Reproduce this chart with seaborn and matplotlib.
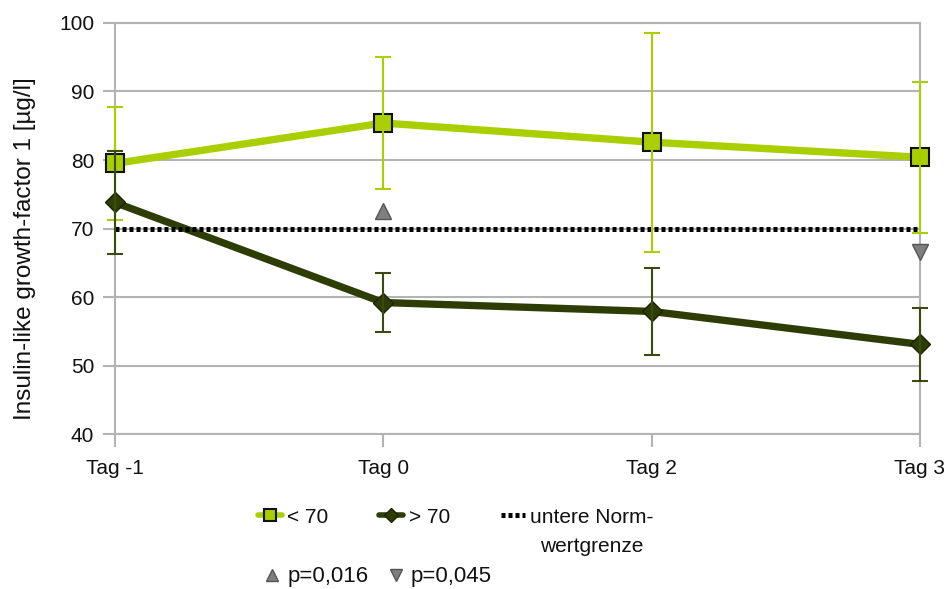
import numpy as np
import pandas as pd
import matplotlib
matplotlib.use("Agg")
import matplotlib.pyplot as plt
from matplotlib.lines import Line2D
import seaborn as sns

# IGF-1 course by group
days = ["Tag -1", "Tag 0", "Tag 2", "Tag 3"]
low_mean = [79.5, 85.4, 82.6, 80.4]     # group "< 70"
low_sd = [8.2, 9.6, 16.0, 11.0]
high_mean = [73.8, 59.2, 57.9, 53.1]    # group "> 70"
high_sd = [7.5, 4.3, 6.3, 5.3]
norm_limit = [70, 70, 70, 70]           # untere Normwertgrenze
sig_up = {"day": "Tag 0", "value": 72.5, "label": "p=0,016"}
sig_down = {"day": "Tag 3", "value": 66.6, "label": "p=0,045"}
y_ticks = [40, 50, 60, 70, 80, 90, 100]

LIGHT = "#aacf00"
DARK = "#2e3d06"
GRID = "#b3b3b3"
FS = 15

sns.set_style("white")
plt.rcParams["font.family"] = ["Liberation Sans", "DejaVu Sans"]
plt.rcParams["font.size"] = FS

pos = np.arange(len(days))
df = pd.DataFrame({
    "pos": np.concatenate([pos, pos, pos]),
    "value": low_mean + high_mean + norm_limit,
    "group": ["< 70"] * 4 + ["> 70"] * 4 + ["norm"] * 4,
})

fig = plt.figure(figsize=(9.5, 5.89), dpi=100)
ax = fig.add_axes([0.121, 0.263, 0.8474, 0.698])

# horizontal grid
for t in y_ticks:
    ax.axhline(t, color=GRID, lw=1.5, zorder=0.5)

# group lines
sns.lineplot(data=df[df.group == "> 70"], x="pos", y="value", ax=ax,
             color=DARK, lw=5.3, marker="D", markersize=10.5,
             markerfacecolor=DARK, markeredgecolor="#1a2200",
             markeredgewidth=1.0, zorder=3, clip_on=False, legend=False)
sns.lineplot(data=df[df.group == "norm"], x="pos", y="value", ax=ax,
             color="black", lw=3.6, linestyle=(0, (0.8, 0.6)),
             zorder=4, legend=False)
sns.lineplot(data=df[df.group == "< 70"], x="pos", y="value", ax=ax,
             color=LIGHT, lw=5.3, marker="s", markersize=13.5,
             markerfacecolor=LIGHT, markeredgecolor="#111111",
             markeredgewidth=1.5, zorder=5, clip_on=False, legend=False)

# standard deviations
ax.errorbar(pos, low_mean, yerr=low_sd, fmt="none", ecolor=LIGHT,
            elinewidth=1.5, capsize=5.8, capthick=1.5, zorder=6, clip_on=False)
ax.errorbar(pos, high_mean, yerr=high_sd, fmt="none", ecolor="#3b4a10",
            elinewidth=1.5, capsize=5.8, capthick=1.5, zorder=6, clip_on=False)

# significance markers
ax.plot(days.index(sig_up["day"]), sig_up["value"], marker="^", ms=12,
        color="#7f7f7f", mec="#555555", mew=1.0, ls="none", zorder=3.5,
        clip_on=False)
ax.plot(days.index(sig_down["day"]), sig_down["value"], marker="v", ms=12,
        color="#7f7f7f", mec="#555555", mew=1.0, ls="none", zorder=3.5,
        clip_on=False)

ax.set_xlim(0, len(days) - 1)
ax.set_ylim(40, 100)
ax.set_xticks(pos)
ax.set_xticklabels(days)
ax.set_yticks(y_ticks)
ax.set_xlabel("")
ax.set_ylabel("Insulin-like growth-factor 1 [µg/l]", fontsize=17.5,
              color="#111111")
ax.yaxis.set_label_coords(-0.098, 0.45)
ax.tick_params(axis="both", direction="out", length=9, width=1.5,
               color=GRID, labelcolor="#111111", bottom=True, left=True)
ax.tick_params(axis="x", pad=9)
ax.tick_params(axis="y", pad=6)
for s in ax.spines.values():
    s.set_color(GRID)
    s.set_linewidth(1.5)

# legend, first row
h_low = Line2D([], [], color=LIGHT, lw=4, marker="s", ms=9,
               mfc=LIGHT, mec="#111111", mew=1.5)
h_high = Line2D([], [], color=DARK, lw=4, marker="D", ms=7,
                mfc=DARK, mec="#1a2200")
h_norm = Line2D([], [], color="black", lw=3.6, linestyle=(0, (0.8, 0.6)))
leg1 = fig.legend([h_low, h_high, h_norm],
                  ["< 70", "> 70", "untere Norm-"],
                  loc="center left", bbox_to_anchor=(0.2716, 0.1222),
                  ncol=3, frameon=False, handlelength=1.15,
                  handletextpad=0.25, columnspacing=2.45,
                  borderaxespad=0, borderpad=0, fontsize=FS)

# second line of the last legend label, centred under the first
fig.canvas.draw()
renderer = fig.canvas.get_renderer()
bb = leg1.get_texts()[2].get_window_extent(renderer)
fig.text((bb.x0 + bb.x1) / 2 / fig.bbox.width, 1 - 547 / 589, "wertgrenze",
         ha="center", va="center", fontsize=FS, color="#111111")

# legend, second row
h_up = Line2D([], [], color="#7f7f7f", marker="^", ms=8, ls="none", mec="#555555")
h_down = Line2D([], [], color="#7f7f7f", marker="v", ms=8, ls="none", mec="#555555")
leg2 = fig.legend([h_up, h_down], [sig_up["label"], sig_down["label"]],
                  loc="center left", bbox_to_anchor=(0.2795, 0.0204),
                  ncol=2, frameon=False, handlelength=0.6, handletextpad=0.37,
                  columnspacing=0.95, borderaxespad=0, borderpad=0,
                  fontsize=16)
for leg in (leg1, leg2):
    for txt in leg.get_texts():
        txt.set_color("#111111")

fig.savefig("out.png", dpi=100)
